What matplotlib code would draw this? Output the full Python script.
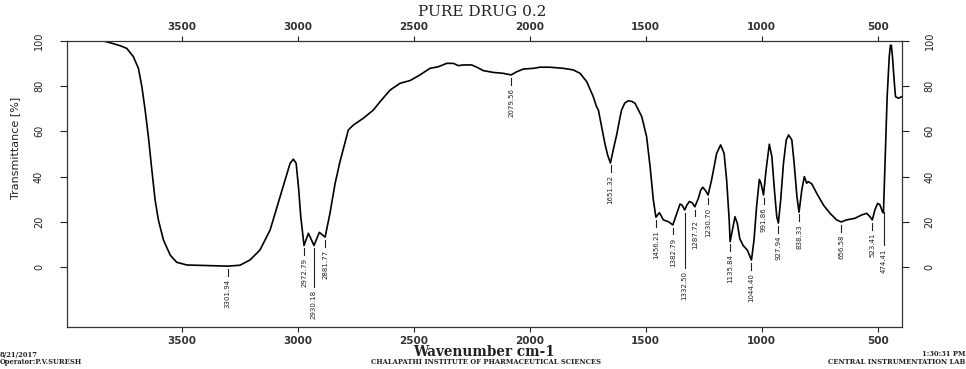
import numpy as np
import matplotlib
matplotlib.use("Agg")
import matplotlib.pyplot as plt

# traced spectrum (wavenumber cm-1, transmittance %)
wavenumber = [3997, 3900, 3838, 3809, 3766, 3737, 3709, 3687, 3672, 3658, 3644, 3629,
              3615, 3601, 3579, 3550, 3522, 3478, 3378, 3302, 3249, 3206, 3163, 3119,
              3076, 3033, 3019, 3007, 2997, 2987, 2973, 2954, 2930, 2907, 2882, 2861,
              2839, 2818, 2782, 2760, 2717, 2674, 2645, 2602, 2559, 2516, 2473, 2430,
              2394, 2358, 2329, 2308, 2286, 2250, 2228, 2200, 2157, 2114, 2080, 2056,
              2027, 1984, 1956, 1913, 1855, 1812, 1783, 1754, 1726, 1712, 1704, 1690,
              1676, 1664, 1652, 1640, 1625, 1611, 1604, 1590, 1575, 1560, 1546, 1517,
              1496, 1481, 1467, 1456, 1448, 1441, 1432, 1424, 1402, 1383, 1366, 1352,
              1344, 1338, 1332, 1322, 1312, 1300, 1288, 1273, 1263, 1254, 1243, 1231,
              1216, 1194, 1177, 1162, 1151, 1140, 1136, 1126, 1115, 1105, 1094, 1079,
              1062, 1044, 1033, 1022, 1010, 1003, 992, 981, 967, 956, 945, 935,
              928, 918, 906, 894, 884, 870, 860, 848, 839, 827, 816, 806,
              799, 784, 763, 734, 705, 677, 657, 634, 598, 569, 547, 533,
              523, 512, 500, 490, 479, 475, 470, 459, 450, 445, 441, 436,
              429, 423, 411, 396]
transmittance = [99.9, 99.9, 99.9, 99.1, 97.8, 96.6, 93.0, 87.8, 79.7, 69.4, 57.6, 42.9,
                 29.7, 20.9, 12.0, 5.4, 2.2, 1.0, 0.7, 0.5, 0.9, 3.2, 7.6, 16.5,
                 31.2, 45.9, 47.7, 45.9, 35.6, 22.3, 9.6, 15.0, 9.6, 15.4, 13.3, 23.9,
                 37.0, 46.6, 60.6, 62.8, 65.8, 69.4, 73.1, 78.2, 81.2, 82.4, 84.9, 87.8,
                 88.5, 90.0, 90.0, 89.0, 89.3, 89.3, 88.3, 86.8, 86.0, 85.6, 84.9, 86.3,
                 87.5, 87.8, 88.3, 88.3, 87.8, 87.1, 85.6, 81.9, 75.3, 70.9, 69.4, 62.0,
                 54.7, 49.5, 46.0, 51.8, 58.5, 66.0, 69.4, 72.5, 73.5, 73.2, 72.4, 66.5,
                 57.6, 44.4, 29.7, 22.1, 23.2, 24.1, 22.5, 20.9, 20.1, 18.7, 23.8, 27.9,
                 27.5, 26.5, 25.3, 27.5, 29.0, 28.5, 26.7, 30.4, 34.0, 35.3, 34.0, 31.9,
                 38.5, 50.3, 54.0, 50.3, 38.5, 20.9, 11.3, 16.5, 22.3, 19.4, 12.5, 9.5,
                 7.6, 3.2, 12.0, 26.7, 38.8, 37.1, 31.9, 42.9, 54.3, 48.8, 34.1, 22.3,
                 19.5, 29.7, 45.9, 56.2, 58.4, 56.2, 45.9, 31.2, 24.3, 34.1, 40.0, 37.1,
                 37.8, 36.8, 32.7, 27.5, 23.8, 20.9, 20.0, 20.9, 21.6, 23.1, 23.8, 22.3,
                 20.9, 25.3, 28.2, 27.5, 24.5, 24.0, 40.0, 75.3, 92.9, 98.0, 98.0, 92.9,
                 82.7, 75.3, 74.6, 75.3]

peak_labels = [3301.94, 2972.79, 2930.18, 2881.77, 2079.56, 1651.32, 1456.21, 1382.79,
               1332.50, 1287.72, 1230.70, 1135.84, 1044.40, 991.86, 927.94, 838.33,
               656.58, 523.41, 474.41]
long_leads = {2930.18: 18.4, 1332.50: 25.7, 474.41: 16.2}

x_ticks = [3500, 3000, 2500, 2000, 1500, 1000, 500]
y_ticks = [0, 20, 40, 60, 80, 100]

narrow = ['Liberation Sans Narrow', 'DejaVu Sans']
ink = '#222222'

fig = plt.figure(figsize=(9.66, 3.69), dpi=100)
ax = fig.add_axes([66.5 / 966, 1 - 327.3 / 369, 835.5 / 966, 286.6 / 369])

ax.plot(wavenumber, transmittance, color='black', lw=1.2)
ax.set_xlim(3997, 395)
ax.set_ylim(-26.5, 100)

# peak markers
wn_sorted = wavenumber[::-1]
t_sorted = transmittance[::-1]
for p in peak_labels:
    t = np.interp(p, wn_sorted, t_sorted)
    lead = long_leads.get(p, 4.3)
    ax.plot([p, p], [t - 1.3, t - lead], color=ink, lw=0.8)
    ax.text(p, t - lead - 1.4, f"{p:.2f}", rotation=90, ha='center', va='top',
            fontsize=5, family=narrow, color=ink)

ax.set_xticks(x_ticks)
ax.set_yticks(y_ticks)
ax.tick_params(axis='x', top=True, labeltop=True, direction='out', length=3.4,
               width=0.8, pad=3.2, colors=ink, labelsize=7.5)
ax.tick_params(axis='y', right=True, labelright=True, direction='out', length=4.7,
               width=0.8, pad=11.5, colors=ink, labelsize=7, labelrotation=90)
for lab in ax.get_xticklabels():
    lab.set_fontweight('bold')
    lab.set_color('#333333')
for lab in ax.get_yticklabels():
    lab.set_family(narrow)
    lab.set_va('center')
for s in ax.spines.values():
    s.set_color('#333333')
    s.set_linewidth(0.9)

fig.text(482 / 966, 1 - 12.5 / 369, "PURE DRUG 0.2", ha='center', va='center',
         family='DejaVu Serif', fontsize=11, color=ink)
fig.text(15 / 966, 1 - 148 / 369, "Transmittance [%]", rotation=90, ha='center',
         va='center', family=narrow, fontsize=8, color=ink)
fig.text(484 / 966, 1 - 352 / 369, "Wavenumber cm-1", ha='center', va='center',
         family='DejaVu Serif', fontweight='bold', fontsize=9.8, color=ink)

foot = dict(family='DejaVu Serif', fontweight='bold', fontsize=4.9, color=ink, va='center')
fig.text(0.0, 1 - 354.5 / 369, "8/21/2017", ha='left', **foot)
fig.text(0.0, 1 - 362.5 / 369, "Operator:P.V.SURESH", ha='left', **foot)
fig.text(486 / 966, 1 - 362.5 / 369, "CHALAPATHI INSTITUTE OF PHARMACEUTICAL SCIENCES", ha='center', **foot)
fig.text(965 / 966, 1 - 354.5 / 369, "1:30:31 PM", ha='right', **foot)
fig.text(965 / 966, 1 - 362.5 / 369, "CENTRAL INSTRUMENTATION LAB", ha='right', **foot)

fig.savefig("out.png", dpi=100, facecolor='white')
